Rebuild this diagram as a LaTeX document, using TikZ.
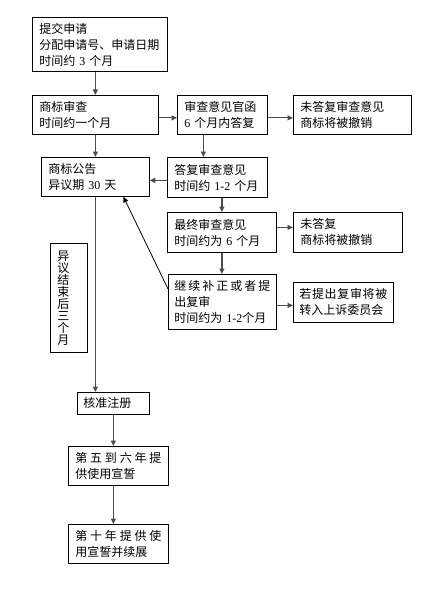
\documentclass[tikz,border=0pt]{standalone}
\usepackage{fontspec}
\setmainfont{Liberation Serif}
\newfontfamily\cjk{Noto Sans CJK SC}
\usetikzlibrary{arrows.meta, positioning, calc}
\definecolor{linegray}{RGB}{75,75,75}
\newcommand{\nm}[1]{{\rmfamily #1}}
\newcommand{\spreadrow}[1]{\noindent\makebox[\hsize][s]{#1}}

\begin{document}
\begin{tikzpicture}[
        x=1pt, y=-1pt,
        box/.style={rectangle, draw, line width=0.8pt, anchor=north west,
                    inner xsep=7pt, inner ysep=0pt, align=left,
                    font=\cjk\fontsize{12}{16}\selectfont},
        arrow/.style={-{Triangle[length=5.5pt,width=5pt]}, linegray, line width=1.2pt},
    ]
        \useasboundingbox (0,0) rectangle (446,591);

        \node[box, text width=121pt, minimum height=54pt] (submit) at (32,17)
            {提交申请\\分配申请号、申请日期\\时间约 \nm{3} 个月};
        \node[box, text width=112pt, minimum height=39pt] (exam) at (32,95)
            {商标审查\\时间约一个月};
        \node[box, text width=76pt, minimum height=39pt] (letter) at (177,95)
            {审查意见官函\\\nm{6} 个月内答复};
        \node[box, text width=104pt, minimum height=39pt] (revoke1) at (293,95)
            {未答复审查意见\\商标将被撤销};
        \node[box, text width=94pt, minimum height=39pt] (pub) at (41,157)
            {商标公告\\异议期 \nm{30} 天};
        \node[box, text width=86pt, minimum height=40pt] (reply) at (167,157)
            {答复审查意见\\时间约 \nm{1-2} 个月};
        \node[box, text width=95pt, minimum height=40pt] (final) at (167,212)
            {最终审查意见\\时间约为 \nm{6} 个月};
        \node[box, text width=95pt, minimum height=40pt] (revoke2) at (293,212)
            {未答复\\商标将被撤销};
        \node[box, inner xsep=6pt, text width=96pt, minimum height=55pt] (cont) at (168,274)
            {\spreadrow{继\hfill 续\hfill 补\hfill 正\hfill 或\hfill 者\hfill 提}\\出复审\\时间约为 \nm{1-2}个月};
        \node[box, inner xsep=6pt, text width=88pt, minimum height=40pt] (review) at (293,282)
            {\spreadrow{若\hfill 提\hfill 出\hfill 复\hfill 审\hfill 将\hfill 被}\\转入上诉委员会};
        \node[box, text width=23pt, minimum height=109pt,
              font=\cjk\fontsize{12}{12}\selectfont] (wait) at (50,243)
            {异\\议\\结\\束\\后\\三\\个\\月};
        \node[box, inner xsep=6pt, text width=60pt, minimum height=22pt] (approve) at (77,392)
            {核准注册};
        \node[box, text width=86pt, minimum height=39pt] (year5) at (68,446)
            {\spreadrow{第\hfill 五\hfill 到\hfill 六\hfill 年\hfill 提}\\供使用宣誓};
        \node[box, text width=86pt, minimum height=39pt] (year10) at (68,524)
            {\spreadrow{第\hfill 十\hfill 年\hfill 提\hfill 供\hfill 使}\\用宣誓并续展};

        \draw[arrow] (submit.south -| exam.north) -- (exam.north);
        \draw[arrow] ([yshift=-3pt]exam.east) -- ([yshift=-3pt]letter.west);
        \draw[arrow] ([yshift=-3pt]letter.east) -- ([yshift=-3pt]revoke1.west);
        \draw[arrow] (exam.south) -- (pub.north);
        \coordinate (split) at ($(letter.south west)!0.29!(letter.south east)$);
        \draw[arrow] (split) -- (split |- reply.north);
        \draw[arrow] ([yshift=-3pt]reply.west) -- ([yshift=-3pt]reply.west -| pub.east);
        \draw[arrow] (reply.south -| final.north) -- (final.north);
        \draw[arrow] ([yshift=5pt]final.east) -- ([yshift=5pt]final.east -| revoke2.west);
        \draw[arrow] (final.south) -- (final.south |- cont.north);
        \draw[arrow] ([yshift=-3.5pt]cont.east) -- ([yshift=-3.5pt]cont.east -| review.west);
        \draw[arrow, line width=0.8pt, black] ([yshift=13pt]cont.west) -- ([xshift=28pt]pub.south);
        \draw[arrow] (pub.south) -- (pub.south |- approve.north);
        \draw[arrow] (approve.south) -- (approve.south |- year5.north);
        \draw[arrow] (approve.south |- year5.south) -- (approve.south |- year10.north);
    \end{tikzpicture}
\end{document}
